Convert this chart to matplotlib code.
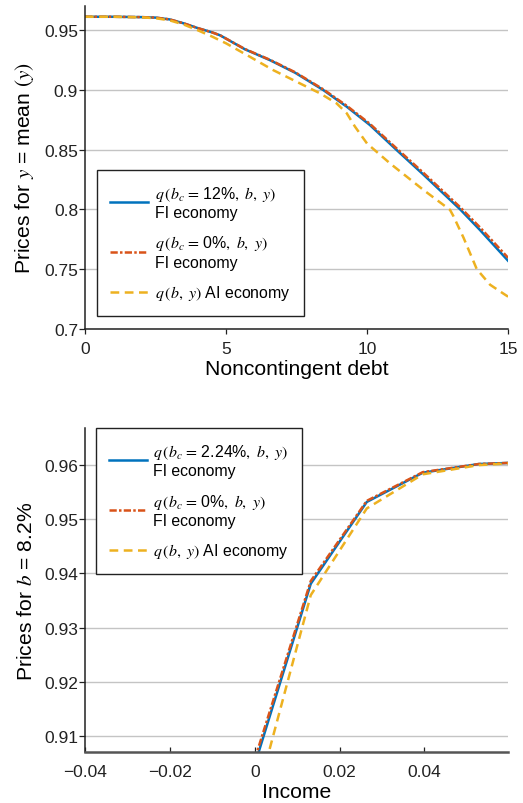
import matplotlib
matplotlib.use("Agg")
import matplotlib.pyplot as plt

plt.rcParams['font.family'] = ['Liberation Sans', 'DejaVu Sans']
plt.rcParams['mathtext.fontset'] = 'stix'

# ---- Top panel data: prices vs noncontingent debt (y = mean) ----
debt_fi12 = [0, 1, 2, 2.5, 3, 3.5, 4, 4.5, 4.79, 5.67, 6.56, 7.45, 8.45, 9.28,
             10.1, 11.03, 12, 13.3, 14, 15]
price_fi12 = [0.961, 0.961, 0.9607, 0.9603, 0.9588, 0.9555, 0.9515, 0.948, 0.9455,
              0.9338, 0.9247, 0.9142, 0.8997, 0.8858, 0.8705, 0.850, 0.829, 0.800,
              0.7828, 0.757]
debt_fi0 = [0, 1, 2, 2.5, 3, 3.5, 4, 4.5, 4.79, 5.67, 6.56, 7.45, 8.45, 9.28,
            10.1, 11.03, 12, 13.3, 14, 15]
price_fi0 = [0.961, 0.961, 0.9607, 0.9603, 0.9588, 0.9555, 0.9515, 0.948, 0.9455,
             0.934, 0.925, 0.9146, 0.9003, 0.8866, 0.8715, 0.8513, 0.8305, 0.8018,
             0.785, 0.7595]
debt_ai = [0, 1, 2, 2.5, 3, 3.5, 4, 4.5, 5, 5.85, 6.68, 7.62, 8.33, 8.92, 9.28,
           9.57, 10.0, 10.34, 10.82, 12.0, 12.94, 13.06, 13.42, 13.89, 14.36,
           14.83, 15]
price_ai = [0.961, 0.961, 0.9605, 0.9598, 0.958, 0.9545, 0.9497, 0.9445, 0.9388,
            0.9275, 0.9163, 0.9053, 0.897, 0.8886, 0.8803, 0.8692, 0.855, 0.8481,
            0.8383, 0.8162, 0.7996, 0.7944, 0.7763, 0.750, 0.737, 0.7296, 0.727]

# ---- Bottom panel data: prices vs income (b = 8.2%) ----
inc_fi = [0.0, 0.0132, 0.0264, 0.0396, 0.0528, 0.0597]
price_b_fi224 = [0.9047, 0.9381, 0.9532, 0.9586, 0.9602, 0.9604]
price_b_fi0 = [0.9057, 0.9386, 0.9534, 0.9587, 0.9602, 0.9604]
inc_ai = [0.0, 0.0132, 0.0165, 0.0264, 0.0396, 0.0528, 0.0597]
price_b_ai = [0.8973, 0.9360, 0.9400, 0.9520, 0.9583, 0.9600, 0.9603]

top_yticks = [0.7, 0.75, 0.8, 0.85, 0.9, 0.95]
top_yticklabels = ["0.7", "0.75", "0.8", "0.85", "0.9", "0.95"]
top_xticks = [0, 5, 10, 15]
top_xticklabels = ["0", "5", "10", "15"]
bot_yticks = [0.91, 0.92, 0.93, 0.94, 0.95, 0.96]
bot_yticklabels = ["0.91", "0.92", "0.93", "0.94", "0.95", "0.96"]
bot_xticks = [-0.04, -0.02, 0, 0.02, 0.04]
bot_xticklabels = ["\u22120.04", "\u22120.02", "0", "0.02", "0.04"]

labels_top = [r"$q\,(b_c\,=\,$12%$,\ b,\ y)$" + "\nFI economy",
              r"$q\,(b_c\,=\,$0%$,\ b,\ y)$" + "\nFI economy",
              r"$q\,(b,\ y)$ AI economy"]
labels_bot = [r"$q\,(b_c\,=\,$2.24%$,\ b,\ y)$" + "\nFI economy",
              r"$q\,(b_c\,=\,$0%$,\ b,\ y)$" + "\nFI economy",
              r"$q\,(b,\ y)$ AI economy"]

BLUE = "#0072BD"
RED = "#D95319"
YEL = "#EDB120"
LW = 1.8
RED_LS = (0, (2.9, 0.9, 1.0, 0.9))
YEL_LS = (0, (3.5, 2.2))
FS_TICK = 12.5
FS_LAB = 15.2
FS_LEG = 11.4

fig = plt.figure(figsize=(5.23, 8.04), dpi=100)
ax1 = fig.add_axes([0.1625, 0.5896, 0.809, 0.4017])
ax2 = fig.add_axes([0.1625, 0.0631, 0.809, 0.403])


def style(ax, bottom_color, bottom_lw, xdir, xpad):
    for s in ["top", "right"]:
        ax.spines[s].set_visible(False)
    ax.spines["left"].set_color("#222222")
    ax.spines["left"].set_linewidth(1.1)
    ax.spines["bottom"].set_color(bottom_color)
    ax.spines["bottom"].set_linewidth(bottom_lw)
    ax.yaxis.grid(True, color="#c4c4c4", linewidth=1.0)
    ax.set_axisbelow(True)
    ax.tick_params(axis="y", direction="out", length=4, width=0.9,
                   labelsize=FS_TICK, colors="#222222", pad=1)
    ax.tick_params(axis="x", direction=xdir, length=3.5, width=0.9,
                   labelsize=FS_TICK, colors="#222222", pad=xpad)


# Top panel
l1, = ax1.plot(debt_fi12, price_fi12, color=BLUE, lw=LW)
l2, = ax1.plot(debt_fi0, price_fi0, color=RED, lw=LW, linestyle=RED_LS)
l3, = ax1.plot(debt_ai, price_ai, color=YEL, lw=LW, linestyle=YEL_LS)
ax1.set_xlim(0, 15)
ax1.set_ylim(0.7, 0.97)
ax1.set_yticks(top_yticks)
ax1.set_yticklabels(top_yticklabels)
ax1.set_xticks(top_xticks)
ax1.set_xticklabels(top_xticklabels)
style(ax1, "#222222", 1.1, "out", 5)
ax1.set_xlabel("Noncontingent debt", fontsize=FS_LAB, labelpad=2)
ax1.set_ylabel(r"Prices for $y$ = mean $(y)$", fontsize=FS_LAB, labelpad=6)
leg1 = ax1.legend([l1, l2, l3], labels_top, loc="upper left",
                  bbox_to_anchor=(0.028, 0.492), borderaxespad=0,
                  fontsize=FS_LEG, handlelength=2.4, handletextpad=0.4,
                  labelspacing=0.85, borderpad=0.85, fancybox=False,
                  framealpha=1, edgecolor="#222222")
leg1.get_frame().set_linewidth(1.0)

# Bottom panel
m1, = ax2.plot(inc_fi, price_b_fi224, color=BLUE, lw=LW)
m2, = ax2.plot(inc_fi, price_b_fi0, color=RED, lw=LW, linestyle=RED_LS)
m3, = ax2.plot(inc_ai, price_b_ai, color=YEL, lw=LW, linestyle=YEL_LS)
ax2.set_xlim(-0.04, 0.0597)
ax2.set_ylim(0.907, 0.9668)
ax2.set_yticks(bot_yticks)
ax2.set_yticklabels(bot_yticklabels)
ax2.set_xticks(bot_xticks)
ax2.set_xticklabels(bot_xticklabels)
style(ax2, "#555555", 1.8, "in", 8.5)
ax2.set_xlabel("Income", fontsize=FS_LAB, labelpad=2)
ax2.set_ylabel("Prices for $b$ = 8.2%", fontsize=FS_LAB, labelpad=6)
leg2 = ax2.legend([m1, m2, m3], labels_bot, loc="upper left",
                  bbox_to_anchor=(0.025, 1.0), borderaxespad=0,
                  fontsize=FS_LEG, handlelength=2.4, handletextpad=0.4,
                  labelspacing=0.85, borderpad=0.85, fancybox=False,
                  framealpha=1, edgecolor="#222222")
leg2.get_frame().set_linewidth(1.0)

fig.savefig("out.png", dpi=100)
